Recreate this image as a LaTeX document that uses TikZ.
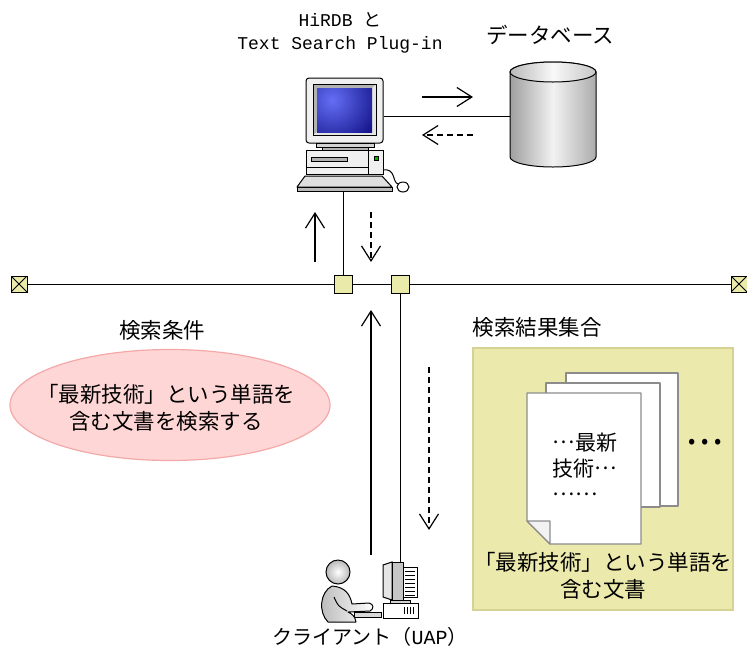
\documentclass[tikz,border=0pt]{standalone}
\usepackage{fontspec}
\setmainfont{Noto Sans CJK JP}
\newfontfamily\jpfont{Noto Sans CJK JP}
\newfontfamily\monofont{Liberation Mono}
\usetikzlibrary{positioning,shapes,arrows.meta}
\definecolor{tapfill}{RGB}{234,234,170}
\definecolor{setfill}{RGB}{236,233,172}
\definecolor{setline}{RGB}{214,210,150}
\definecolor{condfill}{RGB}{255,214,214}
\definecolor{condline}{RGB}{244,168,168}
\definecolor{pageline}{RGB}{140,140,140}
\definecolor{screenhi}{RGB}{100,110,245}
\definecolor{screenlo}{RGB}{10,10,125}
% centred ellipsis for the page text
\newcommand{\midots}{\raisebox{0.33em}{…}}

\begin{document}
\begin{tikzpicture}[%
    x=1pt, y=-1pt,
    line width=1pt,
    font=\fontsize{21.5}{27.5}\selectfont,
    tap/.style={%
      rectangle,
      draw,
      fill=tapfill,
      minimum size=18pt,
      inner sep=0pt
    },
    term/.style={%
      tap, minimum size=16pt,
      path picture={\draw (path picture bounding box.north west) -- (path picture bounding box.south east)
        (path picture bounding box.north east) -- (path picture bounding box.south west);}
    },
    flow/.style={-{Straight Barb[length=15pt,width=19pt]}, line width=1.2pt},
    reply/.style={flow, dash pattern=on 6pt off 4pt},
    docpage/.style={draw=pageline, fill=white, line width=1.2pt, line join=round}
  ]
  \useasboundingbox (0,0) rectangle (747,649);

  % server
  \node[draw, fill=gray!12, rounded corners=3pt, minimum width=77pt, minimum height=65pt, inner sep=0pt] (3) at (344.5,110.5) {};
  \fill[gray!60] (313,84) rectangle (376,135);
  \fill[gray!20] (376,84) -- (376,135) -- (313,135) -- (317,132) -- (372,132) -- (372,88) -- cycle;
  \begin{scope}
    \clip (317,88) rectangle (372,132);
    \shade[inner color=screenhi, outer color=screenlo] (332,100) circle (55);
  \end{scope}
  \draw[line width=0.6pt] (313,84) rectangle (376,135);
  \draw[fill=gray!35] (316,143) rectangle (374,147);
  \draw[fill=gray!60] (322,147) rectangle (368,150);
  \draw[fill=gray!12] (306,150) rectangle (383,174);
  \draw (368,150) -- (368,174) (306,167) -- (368,167);
  \draw[fill=gray!60, line width=0.6pt] (311,157) rectangle (347,161);
  \draw[fill=green!70!black, line width=0.6pt] (374,156) rectangle (378,160);
  \draw (383,170) .. controls (396,168) and (392,182) .. (398,184);
  \draw[fill=white] (403,187) ellipse (6 and 5);
  \draw[fill=gray!25, line join=round] (305,176) -- (382,176) -- (392,187) -- (297,187) -- cycle;
  \draw[fill=gray!55] (297,187) rectangle (392,191);
  \coordinate (kbd) at (343,191);
  \node[align=center, font=\monofont\fontsize{18}{23}\selectfont] (1) at (340,33) {HiRDB {\jpfont と}\\Text Search Plug-in};

  % database
  \shade[draw, left color=gray!75, right color=gray!65, middle color=gray!10]
    (510,72) -- (510,157) arc (180:0:43 and 10) -- (596,72) arc (0:-180:43 and 10) -- cycle;
  \shade[draw, left color=gray!55, right color=gray!45, middle color=gray!5] (553,72) ellipse (43 and 10);
  \coordinate (2) at (510,116);
  \node (16) at (550,35) {データベース};

  % bus
  \node[term] (4) at (19,284) {};
  \node[tap] (5) at (343,284) {};
  \node[tap] (6) at (400,284) {};
  \node[term] (7) at (739,284) {};

  % client
  \shade[draw, inner color=white, outer color=gray!55] (338,572) circle (12);
  \shade[draw, left color=gray!55, right color=white, line join=round]
    (332,586) .. controls (320,592) and (318,612) .. (328,622) -- (356,622)
    .. controls (355,616) and (352,614) .. (348,612) -- (370,611)
    .. controls (374,609) and (374,604) .. (369,603) -- (352,604)
    .. controls (350,594) and (345,587) .. (332,586) -- cycle;
  \draw (334,597) .. controls (338,606) .. (347,611);
  \draw[fill=gray!30] (354,612) rectangle (381,617);
  \draw[fill=gray!20] (383,565) -- (392,562) -- (392,600) -- (383,597) -- cycle;
  \draw[fill=gray!45] (392,562) rectangle (403,600);
  \draw[fill=white] (403,567) rectangle (417,597);
  \foreach \y in {571,575,...,595} \draw[line width=0.8pt] (405,\y) -- (415,\y);
  \draw[fill=gray!35] (390,600) rectangle (410,603);
  \draw[fill=white] (383,603) rectangle (418,618);
  \foreach \x in {404,407,410,413} \draw[line width=0.9pt] (\x,607) -- (\x,614);
  \node[inner sep=0pt, minimum width=34pt, minimum height=38pt] (9) at (400,581) {};
  \node[font=\fontsize{20}{24}\selectfont] (17) at (370,637) {クライアント（{\monofont UAP}）};

  % search condition
  \node (14) at (162,330) {検索条件};
  \node[ellipse, draw=condline, fill=condfill, line width=1.2pt, minimum width=320pt, minimum height=111pt, inner sep=0pt] (8) at (170,405) {};
  \node[align=center] (18) at (166,408) {「最新技術」という単語を\\含む文書を検索する};

  % result set
  \node (15) at (537,327) {検索結果集合};
  \node[draw=setline, fill=setfill, line width=1.2pt, minimum width=260pt, minimum height=262pt, inner sep=0pt] (10) at (603,479) {};
  \draw[docpage] (566,373) rectangle (678,506);
  \draw[docpage] (546,383) rectangle (660,507);
  \draw[docpage] (527,393) -- (641,393) -- (641,544) -- (550,544) -- (527,521) -- cycle;
  \draw[docpage, fill=gray!10] (527,521) -- (550,521) -- (550,544) -- cycle;
  \node[anchor=west, align=left, font=\fontsize{21}{26}\selectfont] (11) at (549,468) {\midots 最新\\技術\midots\\\midots\midots};
  \node (12) at (705,444) {•\hspace{6pt}•\hspace{6pt}•};
  \node[align=center] (13) at (603,576) {「最新技術」という単語を\\含む文書};

  \path (4) edge (5)
  (5) edge (6)
  (6) edge (7)
  (kbd) edge (5)
  (3.east |- 2) edge (2)
  (6) edge (9);

  % requests and replies
  \coordinate (a1) at (422,97);
  \coordinate (a2) at (473,97);
  \coordinate (b1) at (473,135);
  \coordinate (b2) at (422,135);
  \coordinate (c1) at (315,262);
  \coordinate (c2) at (315,212);
  \coordinate (d1) at (371,212);
  \coordinate (d2) at (371,262);
  \coordinate (e1) at (371,555);
  \coordinate (e2) at (371,310);
  \coordinate (f1) at (429,367);
  \coordinate (f2) at (429,530);
  \draw[flow] (a1) -- (a2);
  \draw[reply] (b1) -- (b2);
  \draw[flow] (c1) -- (c2);
  \draw[reply] (d1) -- (d2);
  \draw[flow] (e1) -- (e2);
  \draw[reply] (f1) -- (f2);
\end{tikzpicture}
\end{document}
